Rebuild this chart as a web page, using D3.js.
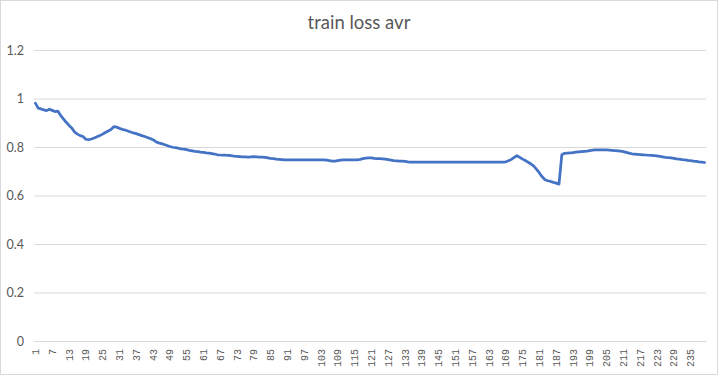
<!DOCTYPE html>
<html>
<head>
<meta charset="utf-8">
<script src="https://cdn.jsdelivr.net/npm/d3@7"></script>
<style>
  html, body { margin: 0; padding: 0; background: #fff; }
  svg { display: block; }
</style>
</head>
<body>
<div id="chart"></div>
<script>
// ---- Data ----
const title = "train loss avr";
const yTicks = [0, 0.2, 0.4, 0.6, 0.8, 1, 1.2];
const yTickLabels = ["0", "0.2", "0.4", "0.6", "0.8", "1", "1.2"];

// train loss average per step, steps 1..240
const lossAvr = [
  0.981, 0.960, 0.957, 0.953, 0.950, 0.956, 0.951, 0.946, 0.948, 0.930,
  0.916, 0.902, 0.889, 0.878, 0.862, 0.853, 0.847, 0.843, 0.832, 0.830,
  0.833, 0.837, 0.842, 0.847, 0.853, 0.860, 0.866, 0.872, 0.884, 0.882,
  0.877, 0.873, 0.870, 0.866, 0.862, 0.858, 0.855, 0.851, 0.847, 0.843,
  0.839, 0.835, 0.830, 0.822, 0.817, 0.814, 0.810, 0.806, 0.802, 0.799,
  0.797, 0.795, 0.792, 0.791, 0.789, 0.786, 0.784, 0.782, 0.781, 0.779,
  0.778, 0.776, 0.775, 0.773, 0.771, 0.768, 0.767, 0.766, 0.766, 0.765,
  0.764, 0.762, 0.761, 0.760, 0.759, 0.759, 0.758, 0.759, 0.760, 0.759,
  0.758, 0.758, 0.757, 0.755, 0.753, 0.752, 0.750, 0.749, 0.748, 0.747,
  0.747, 0.747, 0.747, 0.747, 0.747, 0.747, 0.747, 0.747, 0.747, 0.747,
  0.747, 0.747, 0.747, 0.747, 0.746, 0.744, 0.742, 0.742, 0.744, 0.746,
  0.747, 0.747, 0.747, 0.747, 0.747, 0.747, 0.749, 0.752, 0.754, 0.755,
  0.755, 0.753, 0.752, 0.752, 0.751, 0.750, 0.748, 0.746, 0.744, 0.743,
  0.742, 0.742, 0.741, 0.739, 0.738, 0.738, 0.738, 0.738, 0.738, 0.738,
  0.738, 0.738, 0.738, 0.738, 0.738, 0.738, 0.738, 0.738, 0.738, 0.738,
  0.738, 0.738, 0.738, 0.738, 0.738, 0.738, 0.738, 0.738, 0.738, 0.738,
  0.738, 0.738, 0.738, 0.738, 0.738, 0.738, 0.738, 0.738, 0.739, 0.743,
  0.749, 0.757, 0.764, 0.757, 0.750, 0.744, 0.737, 0.730, 0.721, 0.708,
  0.693, 0.677, 0.665, 0.661, 0.658, 0.654, 0.651, 0.647, 0.768, 0.774,
  0.775, 0.776, 0.777, 0.779, 0.780, 0.781, 0.782, 0.783, 0.785, 0.787,
  0.788, 0.788, 0.788, 0.788, 0.788, 0.787, 0.786, 0.785, 0.784, 0.783,
  0.781, 0.778, 0.775, 0.772, 0.771, 0.770, 0.769, 0.768, 0.767, 0.766,
  0.765, 0.764, 0.763, 0.761, 0.759, 0.757, 0.756, 0.755, 0.753, 0.751,
  0.750, 0.748, 0.747, 0.745, 0.744, 0.742, 0.741, 0.739, 0.738, 0.736
];
const steps = lossAvr.map((_, i) => i + 1);
// x labels every 6th step: 1, 7, 13, ... 235
const xTickValues = steps.filter(s => (s - 1) % 6 === 0);

// ---- Layout ----
const W = 720, H = 376;
const plot = { left: 34, right: 706, top: 50, bottom: 341 };
const GREY_TEXT = "#595959";
const GRID = "#d9d9d9";
const LINE = "#4472c4";

const svg = d3.select("#chart").append("svg")
  .attr("width", W).attr("height", H);

// chart area border
svg.append("rect")
  .attr("x", 0.5).attr("y", 0.5)
  .attr("width", W - 3).attr("height", H - 2)
  .attr("fill", "#fff").attr("stroke", GRID);

svg.append("text")
  .attr("x", 359).attr("y", 29)
  .attr("text-anchor", "middle")
  .attr("font-family", "Lato, 'Open Sans', sans-serif")
  .attr("font-size", 18.5)
  .attr("fill", GREY_TEXT)
  .text(title);

// ---- Scales ----
const x = d3.scaleBand()
  .domain(steps)
  .range([plot.left, plot.right])
  .padding(0);

const y = d3.scaleLinear()
  .domain([0, 1.2])
  .range([plot.bottom, plot.top]);

// ---- Y axis + gridlines ----
const yAxis = svg.append("g")
  .attr("transform", `translate(${plot.left},0)`)
  .call(d3.axisLeft(y)
    .tickValues(yTicks)
    .tickFormat((d, i) => yTickLabels[i])
    .tickSize(-(plot.right - plot.left))
    .tickPadding(10));
yAxis.select(".domain").remove();
yAxis.selectAll("line").attr("stroke", GRID).attr("stroke-width", 1);
yAxis.selectAll("text")
  .attr("fill", GREY_TEXT)
  .attr("font-family", "Lato, 'Open Sans', sans-serif")
  .attr("font-size", 12.5);

// ---- X axis (category labels, rotated) ----
const xAxis = svg.append("g")
  .attr("transform", `translate(0,${plot.bottom})`)
  .call(d3.axisBottom(x)
    .tickValues(xTickValues)
    .tickSize(0)
    .tickPadding(0));
xAxis.select(".domain").attr("stroke", GRID);
xAxis.selectAll("text")
  .attr("fill", GREY_TEXT)
  .attr("font-family", "'Liberation Mono', 'DejaVu Sans Mono', monospace")
  .attr("font-size", 10)
  .attr("text-anchor", "end")
  .attr("dy", "0.35em")
  .attr("transform", "translate(0,8) rotate(-90)");

// ---- Line ----
const line = d3.line()
  .x((d, i) => x(steps[i]) + x.bandwidth() / 2)
  .y(d => y(d));

svg.append("path")
  .datum(lossAvr)
  .attr("fill", "none")
  .attr("stroke", LINE)
  .attr("stroke-width", 2.75)
  .attr("stroke-linejoin", "round")
  .attr("stroke-linecap", "round")
  .attr("d", line);
</script>
</body>
</html>
